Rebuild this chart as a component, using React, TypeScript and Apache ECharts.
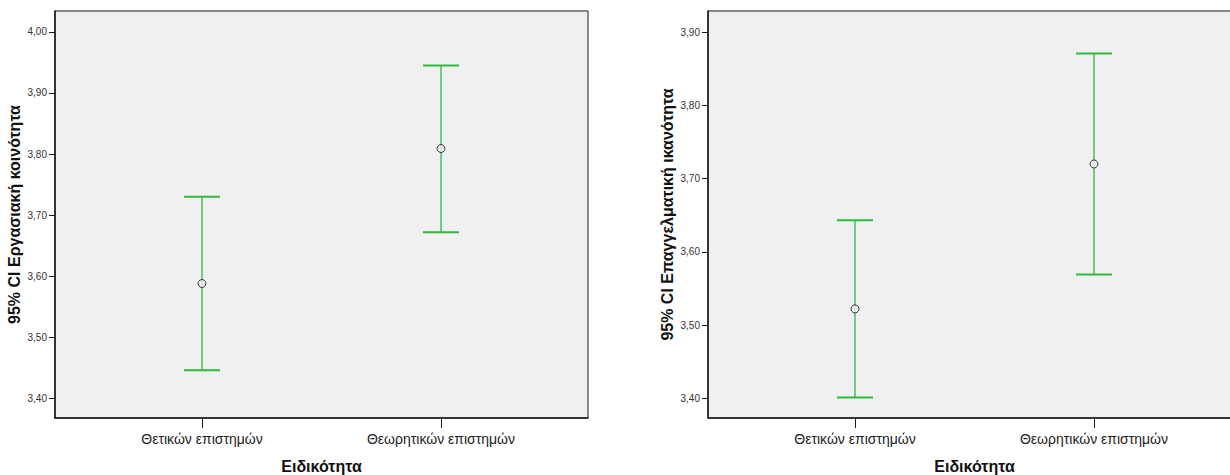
import React, { useEffect, useRef } from "react";
import * as echarts from "echarts";

const categories = ["Θετικών επιστημών", "Θεωρητικών επιστημών"];

// Chart 1: 95% CI Εργασιακή κοινότητα
const communityMean = [3.588, 3.809];
const communityLow = [3.446, 3.672];
const communityHigh = [3.73, 3.945];
const communityTicks = [3.4, 3.5, 3.6, 3.7, 3.8, 3.9, 4.0];

// Chart 2: 95% CI Επαγγελματική ικανότητα
const competenceMean = [3.522, 3.72];
const competenceLow = [3.401, 3.569];
const competenceHigh = [3.643, 3.871];
const competenceTicks = [3.4, 3.5, 3.6, 3.7, 3.8, 3.9];

const xTitle = "Ειδικότητα";
const yTitle1 = "95% CI Εργασιακή κοινότητα";
const yTitle2 = "95% CI Επαγγελματική ικανότητα";

const GREEN = "#2dbb3c";
const FONT = "'Liberation Sans', Arial, sans-serif";

export default function App() {
  const ref = useRef<HTMLDivElement>(null);

  useEffect(() => {
    if (!ref.current) return;
    const chart = echarts.init(ref.current, undefined, { renderer: "svg" });

    const fmtY = (v: number) => v.toFixed(2).replace(".", ",");

    const makeX = (gridIndex: number) => ({
      type: "value",
      gridIndex,
      min: -0.615,
      max: 1.615,
      splitLine: { show: false },
      axisLine: {
        show: true,
        onZero: false,
        lineStyle: { color: "#1a1a1a", width: 1.5 },
      },
      axisTick: {
        show: true,
        inside: false,
        customValues: [0, 1],
        length: 10,
        lineStyle: { color: "#1a1a1a", width: 1 },
      },
      axisLabel: {
        customValues: [0, 1],
        formatter: (v: number) => categories[Math.round(v)] ?? "",
        color: "#222",
        fontSize: 14,
        fontFamily: FONT,
        margin: 14,
      },
      name: xTitle,
      nameLocation: "middle",
      nameGap: 40,
      nameTextStyle: {
        fontWeight: "bold",
        fontSize: 16,
        color: "#111",
        fontFamily: FONT,
      },
    });

    const makeY = (
      gridIndex: number,
      min: number,
      max: number,
      ticks: number[],
      title: string
    ) => ({
      type: "value",
      gridIndex,
      min,
      max,
      splitLine: { show: false },
      axisLine: {
        show: true,
        onZero: false,
        lineStyle: { color: "#1a1a1a", width: 1.5 },
      },
      axisTick: {
        show: true,
        inside: false,
        customValues: ticks,
        length: 6,
        lineStyle: { color: "#1a1a1a", width: 1 },
      },
      axisLabel: {
        customValues: ticks,
        formatter: (v: number) => fmtY(v),
        color: "#333",
        fontSize: 10,
        fontFamily: FONT,
        margin: 8,
      },
      name: title,
      nameLocation: "middle",
      nameRotate: 90,
      nameGap: 33,
      nameTextStyle: {
        fontWeight: "bold",
        fontSize: 16,
        color: "#111",
        fontFamily: FONT,
      },
    });

    const errRender = (params: any, api: any) => {
      const x = api.value(0);
      const lo = api.coord([x, api.value(1)]);
      const hi = api.coord([x, api.value(2)]);
      const w = 18;
      return {
        type: "group",
        children: [
          {
            type: "line",
            shape: { x1: lo[0], y1: lo[1], x2: hi[0], y2: hi[1] },
            style: { stroke: GREEN, lineWidth: 1.3 },
          },
          {
            type: "line",
            shape: { x1: hi[0] - w, y1: hi[1], x2: hi[0] + w, y2: hi[1] },
            style: { stroke: GREEN, lineWidth: 2 },
          },
          {
            type: "line",
            shape: { x1: lo[0] - w, y1: lo[1], x2: lo[0] + w, y2: lo[1] },
            style: { stroke: GREEN, lineWidth: 2 },
          },
        ],
      };
    };

    const errSeries = (idx: number, low: number[], high: number[]) => ({
      type: "custom",
      xAxisIndex: idx,
      yAxisIndex: idx,
      renderItem: errRender,
      encode: { x: 0, y: [1, 2] },
      data: categories.map((_, i) => [i, low[i], high[i]]),
      silent: true,
      z: 2,
    });

    const meanSeries = (idx: number, mean: number[]) => ({
      type: "scatter",
      xAxisIndex: idx,
      yAxisIndex: idx,
      symbol: "circle",
      symbolSize: 8,
      itemStyle: { color: "#f0f0f0", borderColor: "#111", borderWidth: 1 },
      data: categories.map((_, i) => [i, mean[i]]),
      silent: true,
      z: 3,
    });

    const gridBase = {
      show: true,
      backgroundColor: "#f0f0f0",
      borderColor: "#1a1a1a",
      borderWidth: 1,
      top: 11,
      height: 407,
      width: 533,
      containLabel: false,
      outerBoundsMode: "none",
    };

    chart.setOption({
      animation: false,
      backgroundColor: "#ffffff",
      textStyle: { fontFamily: FONT },
      grid: [
        { ...gridBase, left: 55 },
        { ...gridBase, left: 708 },
      ],
      xAxis: [makeX(0), makeX(1)],
      yAxis: [
        makeY(0, 3.368, 4.034, communityTicks, yTitle1),
        makeY(1, 3.373, 3.929, competenceTicks, yTitle2),
      ],
      series: [
        errSeries(0, communityLow, communityHigh),
        meanSeries(0, communityMean),
        errSeries(1, competenceLow, competenceHigh),
        meanSeries(1, competenceMean),
      ],
    } as any);

    return () => chart.dispose();
  }, []);

  return (
    <div
      ref={ref}
      style={{
        position: "absolute",
        left: 0,
        top: 0,
        width: 1230,
        height: 475,
      }}
    />
  );
}
